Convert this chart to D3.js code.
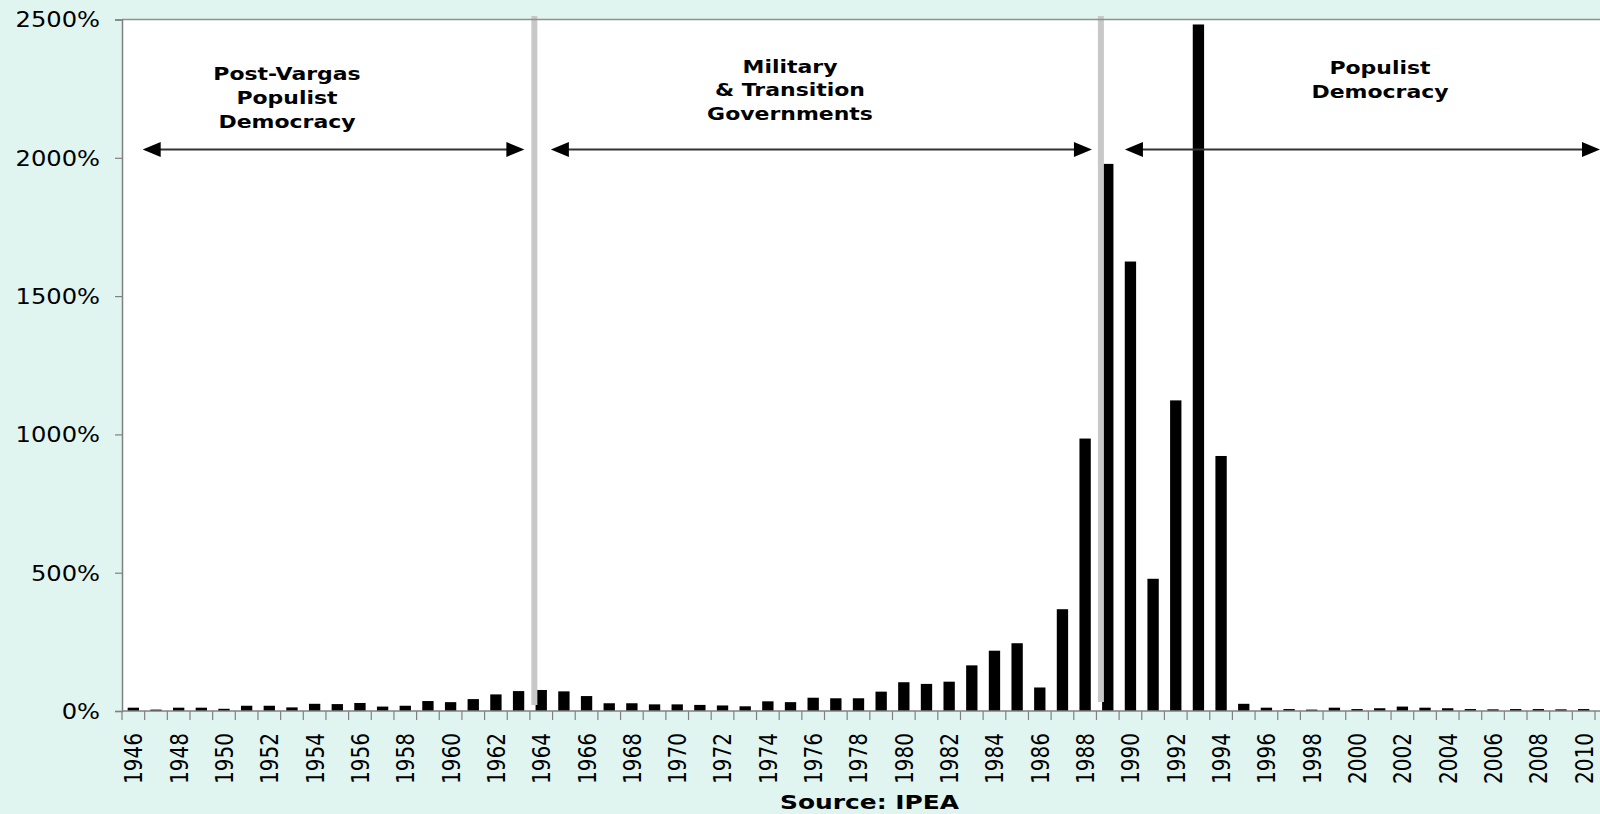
<!DOCTYPE html>
<html>
<head>
<meta charset="utf-8">
<script src="https://cdn.jsdelivr.net/npm/d3@7"></script>
<style>
  html, body { margin: 0; padding: 0; background: #e0f5f0; }
  svg { display: block; }
  text { font-family: "DejaVu Sans", Verdana, sans-serif; }
</style>
</head>
<body>
<svg id="chart" width="1600" height="814"></svg>
<script>
// ---------------- DATA ----------------
const years = ["1946","1947","1948","1949","1950","1951","1952","1953","1954","1955",
  "1956","1957","1958","1959","1960","1961","1962","1963","1964","1965",
  "1966","1967","1968","1969","1970","1971","1972","1973","1974","1975",
  "1976","1977","1978","1979","1980","1981","1982","1983","1984","1985",
  "1986","1987","1988","1989","1990","1991","1992","1993","1994","1995",
  "1996","1997","1998","1999","2000","2001","2002","2003","2004","2005",
  "2006","2007","2008","2009","2010"];

const inflation = [12, 5, 12, 12, 8, 19, 19, 13, 26, 25,
  29, 16, 19, 36, 32, 43, 60, 72, 76, 71,
  54, 28, 28, 24, 24, 22, 20, 17, 35, 32,
  48, 46, 46, 70, 104, 98, 106, 165, 218, 245,
  85, 368, 985, 1978, 1625, 478, 1123, 2482, 922, 26,
  12, 7, 5, 12, 7, 10, 16, 12, 10, 7,
  6, 7, 7, 6, 7];

const yTicks = [0, 500, 1000, 1500, 2000, 2500];
const xLabelYears = years.filter((d, i) => i % 2 === 0);

const regimeBreaks = ["1964", "1989"];
const periodLabels = [
  ["Post-Vargas", "Populist", "Democracy"],
  ["Military", "& Transition", "Governments"],
  ["Populist", "Democracy"]
];
const sourceText = "Source: IPEA";

// ---------------- LAYOUT ----------------
const W = 1600, H = 814;
const mLeft = 122, mTop = 19.5, mBottom = 711, mRight = 1595;
const svg = d3.select("#chart");

const x = d3.scaleBand().domain(years).range([mLeft, mRight])
  .paddingInner(0.5).paddingOuter(0.25);
const step = x.step();
const y = d3.scaleLinear().domain([0, 2500]).range([mBottom, mTop]);

// background
svg.append("rect").attr("x", 0).attr("y", 0).attr("width", W).attr("height", H).attr("fill", "#e0f5f0");
svg.append("rect").attr("x", mLeft).attr("y", mTop).attr("width", W - mLeft).attr("height", mBottom - mTop).attr("fill", "#ffffff");

// bars
svg.append("g").selectAll("rect").data(years).join("rect")
  .attr("x", d => x(d))
  .attr("width", x.bandwidth())
  .attr("y", (d, i) => y(inflation[i]))
  .attr("height", (d, i) => mBottom - y(inflation[i]))
  .attr("fill", "#000");

// regime separator lines (on top of bars)
const breakX = regimeBreaks.map(d => x(d) - 1.2);
svg.append("g").selectAll("line").data(breakX).join("line")
  .attr("x1", d => d).attr("x2", d => d)
  .attr("y1", 16).attr("y2", (d, i) => i === 0 ? 705 : 702)
  .attr("stroke", "#c8c8c8").attr("stroke-width", 6);

// top border
svg.append("line").attr("x1", mLeft).attr("x2", W).attr("y1", mTop).attr("y2", mTop)
  .attr("stroke", "#909090").attr("stroke-width", 1.5);

// y axis
const yAxis = d3.axisLeft(y).tickValues(yTicks).tickSize(7).tickPadding(15).tickFormat(d => d + "%");
const gy = svg.append("g").attr("transform", `translate(${mLeft},0)`).call(yAxis);
gy.attr("font-family", null).attr("font-size", null);
gy.select(".domain").attr("stroke", "#808080").attr("stroke-width", 1.5);
gy.selectAll(".tick line").attr("stroke", "#808080").attr("stroke-width", 1.2);
gy.selectAll(".tick text").each(function() {
  const t = d3.select(this);
  const tx = +t.attr("x");
  t.attr("x", null)
   .attr("transform", `translate(${tx},0) scale(1.18,1)`)
   .attr("dy", "0.36em")
   .attr("font-size", "20.5px")
   .attr("font-family", "DejaVu Sans, Verdana, sans-serif")
   .attr("fill", "#000");
});

// x axis baseline
svg.append("line").attr("x1", mLeft).attr("x2", W).attr("y1", mBottom).attr("y2", mBottom)
  .attr("stroke", "#808080").attr("stroke-width", 1.5);

// x ticks at category boundaries
const boundaries = years.map(d => x(d) - step * 0.25)
  .concat([x(years[years.length - 1]) + x.bandwidth() + step * 0.25]);
svg.append("g").selectAll("line").data(boundaries).join("line")
  .attr("x1", d => d).attr("x2", d => d).attr("y1", mBottom).attr("y2", mBottom + 9)
  .attr("stroke", "#808080").attr("stroke-width", 1.2);

// x labels (rotated)
svg.append("g").selectAll("text").data(xLabelYears).join("text")
  .attr("transform", d => `translate(${x(d) + x.bandwidth() / 2},733) scale(1.24,1) rotate(-90)`)
  .attr("text-anchor", "end")
  .attr("dy", "0.36em")
  .attr("font-size", "20px")
  .attr("fill", "#000")
  .text(d => d);

// period arrows
const arrowY = 149.5;
const arrows = [
  [x(years[0]) + 15, breakX[0] - 10],
  [breakX[0] + 16.5, breakX[1] - 9],
  [breakX[1] + 24, W]
];
const headL = 18, headH = 7.5;
const ga = svg.append("g");
arrows.forEach(([a, b]) => {
  ga.append("line").attr("x1", a + headL - 2).attr("x2", b - headL + 2)
    .attr("y1", arrowY).attr("y2", arrowY)
    .attr("stroke", "#333").attr("stroke-width", 1.8);
  ga.append("path").attr("d", `M${a},${arrowY} L${a + headL},${arrowY - headH} L${a + headL},${arrowY + headH} Z`).attr("fill", "#000");
  ga.append("path").attr("d", `M${b},${arrowY} L${b - headL},${arrowY - headH} L${b - headL},${arrowY + headH} Z`).attr("fill", "#000");
});

// period labels
const labelX = [287, 790, 1380];
const labelY0 = [79.5, 72.6, 73.6];
const labelDy = [24.2, 23.6, 24];
periodLabels.forEach((lines, i) => {
  lines.forEach((s, j) => {
    svg.append("text")
      .attr("transform", `translate(${labelX[i]},${labelY0[i] + j * labelDy[i]}) scale(1.27,1)`)
      .attr("text-anchor", "middle")
      .attr("font-size", "17.3px")
      .attr("font-weight", "bold")
      .attr("fill", "#000")
      .text(s);
  });
});

// source
svg.append("text")
  .attr("transform", `translate(869.5,808.5) scale(1.27,1)`)
  .attr("text-anchor", "middle")
  .attr("font-size", "19.6px")
  .attr("font-weight", "bold")
  .attr("fill", "#000")
  .text(sourceText);
</script>
</body>
</html>
